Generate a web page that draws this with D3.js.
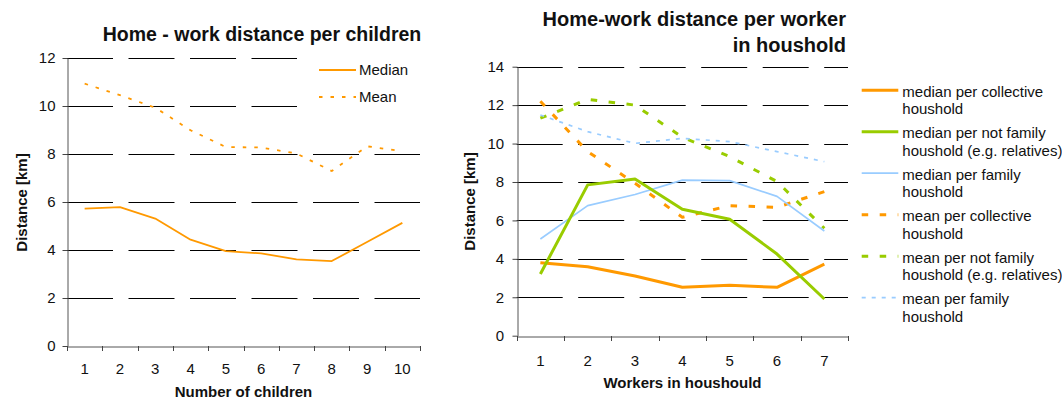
<!DOCTYPE html>
<html>
<head>
<meta charset="utf-8">
<script src="https://cdn.jsdelivr.net/npm/d3@7/dist/d3.min.js"></script>
<style>
  html, body { margin: 0; padding: 0; background: #fff; }
  svg { display: block; font-family: "Liberation Sans", Arial, sans-serif; }
</style>
</head>
<body>
<svg id="chart" width="1062" height="402"></svg>
<script>
// ---------- data ----------
const childCats = [1, 2, 3, 4, 5, 6, 7, 8, 9, 10];
const childMedian = [5.72, 5.79, 5.31, 4.43, 3.95, 3.86, 3.61, 3.54, 4.33, 5.13];
const childMean = [10.93, 10.45, 9.93, 8.99, 8.29, 8.27, 8.02, 7.29, 8.32, 8.12];
const childYTicks = [0, 2, 4, 6, 8, 10, 12];
const childLegend = ["Median", "Mean"];

const workerCats = [1, 2, 3, 4, 5, 6, 7];
const medianCollective = [3.80, 3.59, 3.11, 2.52, 2.62, 2.52, 3.72];
const medianNotFamily = [3.21, 7.85, 8.16, 6.58, 6.06, 4.25, 1.91];
const medianFamily = [5.03, 6.77, 7.35, 8.10, 8.07, 7.25, 5.45];
const meanCollective = [12.2, 9.58, 7.93, 6.16, 6.77, 6.68, 7.50];
const meanNotFamily = [11.32, 12.30, 12.00, 10.33, 9.32, 8.02, 5.59];
const meanFamily = [11.49, 10.62, 10.01, 10.27, 10.10, 9.58, 9.06];
const workerYTicks = [0, 2, 4, 6, 8, 10, 12, 14];
const workerLegend = [
  ["median per collective", "houshold"],
  ["median per not family", "houshold (e.g. relatives)"],
  ["median per family", "houshold"],
  ["mean per collective", "houshold"],
  ["mean per not family", "houshold (e.g. relatives)"],
  ["mean per family", "houshold"]
];

// ---------- styles ----------
const ORANGE = "#FF9900", GREEN = "#99CC00", BLUE = "#99CCFF";
const svg = d3.select("#chart");

function drawPanel(opts) {
  const g = svg.append("g");
  const x = d3.scaleBand().domain(opts.cats).range([opts.x0, opts.x1]).padding(0);
  const y = d3.scaleLinear().domain([0, opts.ymax]).range([opts.y0, opts.y1]);

  // gridlines
  g.append("g").selectAll("line")
    .data(opts.yTicks.filter(d => d > 0))
    .join("line")
    .attr("x1", opts.x0).attr("x2", opts.x1)
    .attr("y1", d => Math.round(y(d)) + 0.5).attr("y2", d => Math.round(y(d)) + 0.5)
    .attr("stroke", "#000").attr("stroke-width", 1)
    .attr("stroke-dasharray", "46,15.5");

  // y axis
  const ya = g.append("g").attr("transform", `translate(${Math.round(opts.x0) + 0.5},0)`)
    .call(d3.axisLeft(y).tickValues(opts.yTicks).tickSize(5).tickSizeOuter(0).tickPadding(opts.yPad));
  ya.select(".domain").attr("stroke", "#555");
  ya.selectAll(".tick line").attr("stroke", "#444");
  ya.selectAll("text").attr("font-size", 15).attr("fill", "#111")
    .attr("font-family", "Liberation Sans, Arial, sans-serif");

  // x axis (labels at band centers, ticks at band boundaries)
  const xa = g.append("g").attr("transform", `translate(0,${Math.round(opts.y0) + 0.5})`)
    .call(d3.axisBottom(x).tickSize(0).tickSizeOuter(0).tickPadding(opts.xPad));
  xa.select(".domain").attr("stroke", "#555");
  xa.selectAll("text").attr("font-size", 15).attr("fill", "#111")
    .attr("font-family", "Liberation Sans, Arial, sans-serif");
  const bounds = opts.cats.map(c => x(c)).concat([opts.x1]);
  g.append("g").selectAll("line").data(bounds).join("line")
    .attr("x1", d => Math.round(d) + 0.5).attr("x2", d => Math.round(d) + 0.5)
    .attr("y1", Math.round(opts.y0)).attr("y2", Math.round(opts.y0) + 5)
    .attr("stroke", "#444");

  return { g, x, y };
}

function drawSeries(p, cats, vals, color, width, dash) {
  const line = d3.line()
    .x((d, i) => p.x(cats[i]) + p.x.bandwidth() / 2)
    .y(d => p.y(d));
  p.g.append("path").datum(vals)
    .attr("d", line)
    .attr("fill", "none")
    .attr("stroke", color)
    .attr("stroke-width", width)
    .attr("stroke-linejoin", "round")
    .attr("stroke-dasharray", dash || null);
}

// ---------- left panel ----------
const L = drawPanel({ cats: childCats, x0: 67, x1: 420, y0: 346, y1: 58, ymax: 12,
  yTicks: childYTicks, yPad: 7, xPad: 16.4 });

// legend box (covers gridlines)
L.g.append("rect").attr("x", 297).attr("y", 54).attr("width", 123).attr("height", 60).attr("fill", "#fff");

drawSeries(L, childCats, childMedian, ORANGE, 1.8, null);
drawSeries(L, childCats, childMean, ORANGE, 1.8, "3.5,8");

const leftLeg = [{ t: childLegend[0], dash: null, y: 70 }, { t: childLegend[1], dash: "3.5,8", y: 97 }];
leftLeg.forEach(d => {
  L.g.append("line").attr("x1", 319).attr("x2", 356).attr("y1", d.y).attr("y2", d.y)
    .attr("stroke", ORANGE).attr("stroke-width", 1.8).attr("stroke-dasharray", d.dash);
  L.g.append("text").attr("x", 359).attr("y", d.y + 5).attr("font-size", 15).attr("fill", "#111").text(d.t);
});

svg.append("text").attr("x", 262).attr("y", 41).attr("text-anchor", "middle")
  .attr("font-size", 19.5).attr("font-weight", "bold").attr("fill", "#111")
  .text("Home - work distance per children");
svg.append("text").attr("transform", "translate(27,202.5) rotate(-90)").attr("text-anchor", "middle")
  .attr("font-size", 15).attr("font-weight", "bold").attr("fill", "#111").text("Distance [km]");
svg.append("text").attr("x", 243.5).attr("y", 397).attr("text-anchor", "middle")
  .attr("font-size", 15).attr("font-weight", "bold").attr("fill", "#111").text("Number of children");

// ---------- right panel ----------
const R = drawPanel({ cats: workerCats, x0: 516.7, x1: 848, y0: 335.7, y1: 66.7, ymax: 14,
  yTicks: workerYTicks, yPad: 8.4, xPad: 18.7 });

const rightSeries = [
  { v: medianCollective, c: ORANGE, w: 3, dash: null },
  { v: medianNotFamily, c: GREEN, w: 3, dash: null },
  { v: medianFamily, c: BLUE, w: 1.7, dash: null },
  { v: meanCollective, c: ORANGE, w: 3, dash: "6.5,11.5" },
  { v: meanNotFamily, c: GREEN, w: 3, dash: "6.5,11.5" },
  { v: meanFamily, c: BLUE, w: 1.7, dash: "4,6" }
];
// draw dashed (means) first, then medians
[3, 4, 5, 2, 0, 1].forEach(i => {
  const s = rightSeries[i];
  drawSeries(R, workerCats, s.v, s.c, s.w, s.dash);
});

rightSeries.forEach((s, i) => {
  const by = 96.7 + i * 41.5;
  svg.append("line").attr("x1", 861.7).attr("x2", 898.3).attr("y1", by - 6.5).attr("y2", by - 6.5)
    .attr("stroke", s.c).attr("stroke-width", s.w).attr("stroke-dasharray", s.dash);
  const t = svg.append("text").attr("x", 902.3).attr("y", by).attr("font-size", 15).attr("fill", "#111");
  t.append("tspan").attr("x", 902.3).attr("y", by).text(workerLegend[i][0]);
  t.append("tspan").attr("x", 902.3).attr("y", by + 17.3).text(workerLegend[i][1]);
});

const rt = svg.append("text").attr("text-anchor", "end").attr("font-size", 20)
  .attr("font-weight", "bold").attr("fill", "#111");
rt.append("tspan").attr("x", 846).attr("y", 26).text("Home-work distance per worker");
rt.append("tspan").attr("x", 846).attr("y", 52.3).text("in houshold");
svg.append("text").attr("transform", "translate(475,201.5) rotate(-90)").attr("text-anchor", "middle")
  .attr("font-size", 15).attr("font-weight", "bold").attr("fill", "#111").text("Distance [km]");
svg.append("text").attr("x", 682.5).attr("y", 388).attr("text-anchor", "middle")
  .attr("font-size", 15).attr("font-weight", "bold").attr("fill", "#111").text("Workers in houshould");
</script>
</body>
</html>
